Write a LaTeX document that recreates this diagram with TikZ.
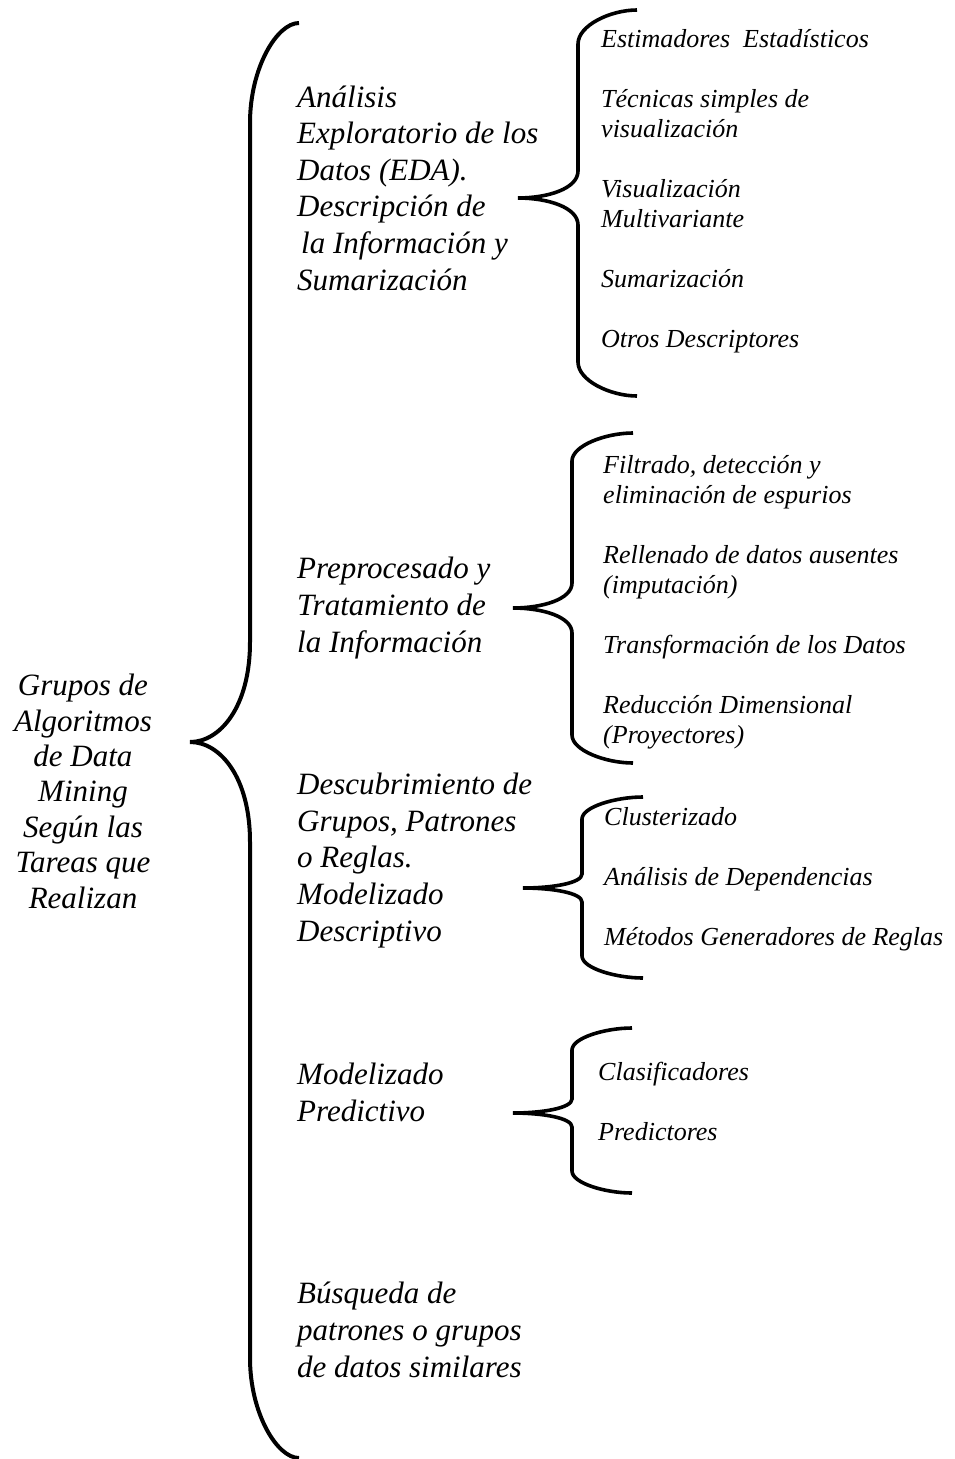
\documentclass[tikz,border=0pt]{standalone}
\usepackage{fontspec}
\setmainfont{Liberation Serif}

% Curly brace: end x, top y, spine x, tip x, tip y, bottom y, end-curve length, tip-curve length
\newcommand\curlybrace[8]{%
  \draw[brace] (#1,#2)
    .. controls ({#3+0.55*(#1-#3)},#2) and (#3,{#2+0.45*#7}) .. (#3,{#2+#7})
    -- (#3,{#5-#8})
    .. controls (#3,{#5-0.35*#8}) and ({#4+0.5*(#3-#4)},#5) .. (#4,#5)
    .. controls ({#4+0.5*(#3-#4)},#5) and (#3,{#5+0.35*#8}) .. (#3,{#5+#8})
    -- (#3,{#6-#7})
    .. controls (#3,{#6-0.45*#7}) and ({#3+0.55*(#1-#3)},#6) .. (#1,#6);
}

\begin{document}
\begin{tikzpicture}[x=1pt,y=-1pt,
  brace/.style={line width=3.6pt,black},
  root/.style={font=\fontsize{31}{35.4}\selectfont\itshape,align=center,anchor=base,inner sep=0pt},
  group/.style={font=\fontsize{31}{36.6}\selectfont\itshape,align=left,anchor=base west,inner sep=0pt},
  item/.style={font=\fontsize{26}{30}\selectfont\itshape,align=left,anchor=base west,inner sep=0pt}]

\useasboundingbox (0,0) rectangle (955,1459);

% root label (positions give the baseline of the last line)
\node[root] (root) at (83,908) {Grupos de\\Algoritmos\\de Data\\Mining\\Según las\\Tareas que\\Realizan};

% main brace
\begin{scope}[brace/.append style={line width=4pt}]
\curlybrace{299}{23}{250}{190}{742}{1458}{100}{100}
\end{scope}

% task groups
\node[group] (eda)  at (297,290) {Análisis\\Exploratorio de los\\Datos (EDA).\\Descripción de\\\hspace*{4pt}la Información y\\Sumarización};
\node[group] (prep) at (297,652) {Preprocesado y\\Tratamiento de\\la Información};
\node[group] (desc) at (297,941) {Descubrimiento de\\Grupos, Patrones\\o Reglas.\\Modelizado\\Descriptivo};
\node[group] (pred) at (297,1121) {Modelizado\\Predictivo};
\node[group] (busq) at (297,1377) {Búsqueda de\\patrones o grupos\\de datos similares};

% sub-braces
\curlybrace{637}{10}{578}{518}{198}{396}{34}{27}
\curlybrace{633}{433}{572}{513}{608}{763}{28}{25}
\curlybrace{643}{797}{582}{523}{888}{978}{22}{14}
\curlybrace{632}{1028}{572}{513}{1113}{1193}{22}{14}

% EDA techniques
\node[item] (e1) at (601,47)  {Estimadores\ \ Estadísticos};
\node[item] (e2) at (601,137) {Técnicas simples de\\visualización};
\node[item] (e3) at (601,227) {Visualización\\Multivariante};
\node[item] (e4) at (601,287) {Sumarización};
\node[item] (e5) at (601,347) {Otros Descriptores};

% preprocessing techniques
\node[item] (p1) at (603,503) {Filtrado, detección y\\eliminación de espurios};
\node[item] (p2) at (603,593) {Rellenado de datos ausentes\\(imputación)};
\node[item] (p3) at (603,653) {Transformación de los Datos};
\node[item] (p4) at (603,743) {Reducción Dimensional\\(Proyectores)};

% descriptive modelling
\node[item] (d1) at (604,825) {Clusterizado};
\node[item] (d2) at (604,885) {Análisis de Dependencias};
\node[item] (d3) at (604,945) {Métodos Generadores de Reglas};

% predictive modelling
\node[item] (m1) at (598,1080) {Clasificadores};
\node[item] (m2) at (598,1140) {Predictores};

\end{tikzpicture}
\end{document}
